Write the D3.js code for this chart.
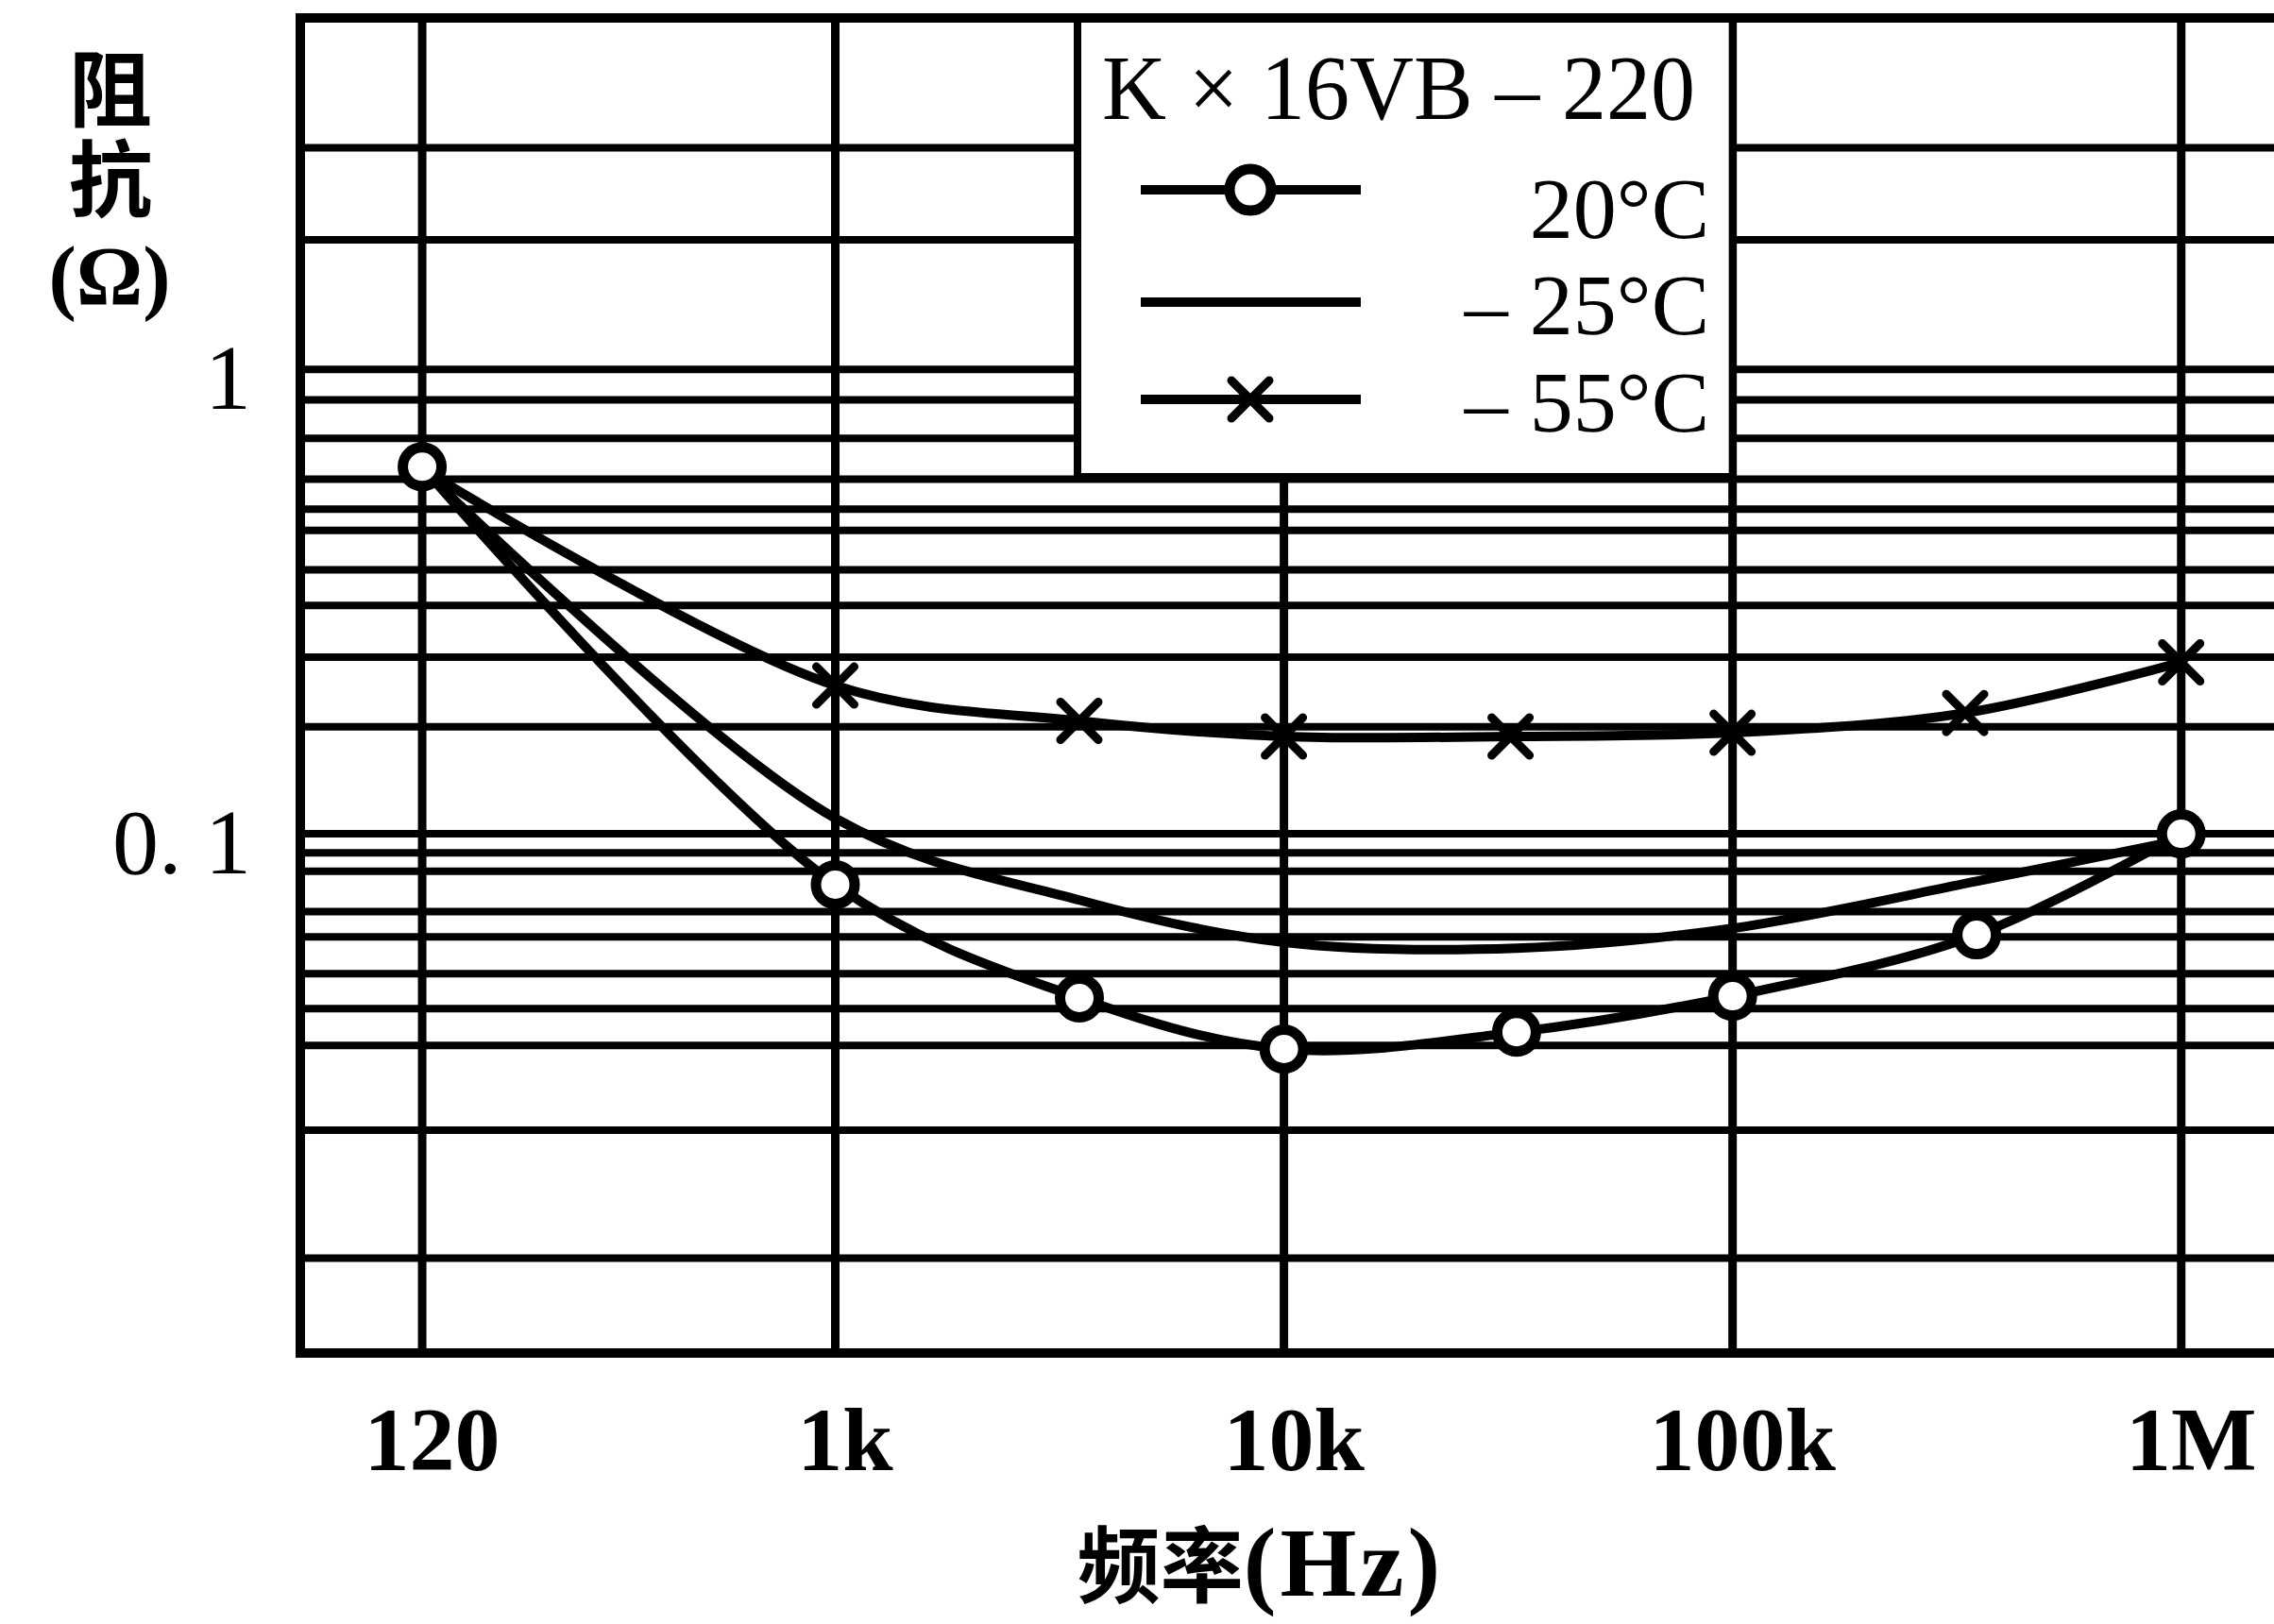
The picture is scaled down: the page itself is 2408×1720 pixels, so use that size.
<!DOCTYPE html>
<html><head><meta charset="utf-8">
<script src="https://cdn.jsdelivr.net/npm/d3@7"></script>
<style>
html,body{margin:0;padding:0;background:#fff;}
svg{display:block;}
</style></head>
<body>
<svg id="chart" width="2408" height="1720"></svg>
<script>
// ---------- data ----------
const freqTicks = [120, 1000, 10000, 100000, 1000000];
const freqTickLabels = ["120", "1k", "10k", "100k", "1M"];
const impTicks = [1, 0.1];
const impTickLabels = ["1", "0. 1"];
// horizontal grid lines as printed on the original chart paper
const gridImpedance = [3, 1.9, 1, 0.86, 0.71, 0.58, 0.5, 0.45, 0.37, 0.31, 0.24, 0.17,
  0.1, 0.091, 0.083, 0.068, 0.06, 0.05, 0.042, 0.035, 0.023, 0.0122];

const freq20 = [120, 1000, 3500, 10000, 33000, 100000, 350000, 1000000];
const z20    = [0.617, 0.0777, 0.0443, 0.0344, 0.0374, 0.0447, 0.0606, 0.1];
const freq25 = [120, 1000, 3500, 10000, 33000, 100000, 350000, 1000000];
const z25    = [0.61, 0.108, 0.072, 0.0584, 0.0567, 0.0626, 0.079, 0.097];
const freq55 = [120, 1000, 3500, 10000, 32000, 100000, 330000, 1000000];
const z55    = [0.61, 0.2085, 0.175, 0.162, 0.162, 0.165, 0.182, 0.234];

const legendTitle = "K × 16VB – 220";
const seriesNames = ["20°C", "– 25°C", "– 55°C"];
const yTitleCJK = "阻抗";
const yTitleUnit = "(Ω)";
const xTitleCJK = "频率";
const xTitleUnit = "(Hz)";

// ---------- layout ----------
const W = 2408, H = 1720;
const plot = {left: 318, top: 19, right: 2408, bottom: 1433};
const svg = d3.select("#chart");
svg.append("rect").attr("width", W).attr("height", H).attr("fill", "#fff");

const x = d3.scaleLog().domain([64.2, 1.61e6]).range([plot.left, plot.right]);
const y = d3.scaleLog().domain([0.00762, 5.71]).range([plot.bottom, plot.top]);

const serif = "'Liberation Serif','Times New Roman',serif";
const cjk = "'Noto Sans CJK SC','Noto Sans CJK TC',sans-serif";

// grid
const grid = svg.append("g").attr("stroke", "#000");
grid.selectAll("line.h").data(gridImpedance).join("line")
  .attr("class", "h")
  .attr("x1", plot.left).attr("x2", plot.right)
  .attr("y1", d => y(d)).attr("y2", d => y(d))
  .attr("stroke-width", 8);
grid.selectAll("line.v").data(freqTicks).join("line")
  .attr("class", "v")
  .attr("x1", d => x(d)).attr("x2", d => x(d))
  .attr("y1", plot.top).attr("y2", plot.bottom)
  .attr("stroke-width", 9);

// legend box (sits on the grid, white)
const lg = {x0: 1141, x1: x(100000), y0: plot.top, y1: 505};
svg.append("rect")
  .attr("x", lg.x0).attr("y", lg.y0)
  .attr("width", lg.x1 - lg.x0).attr("height", lg.y1 - lg.y0)
  .attr("fill", "#fff").attr("stroke", "#000").attr("stroke-width", 8);

// frame
const frame = svg.append("g").attr("stroke", "#000").attr("stroke-width", 10).attr("stroke-linecap", "square");
frame.append("line").attr("x1", plot.left).attr("x2", plot.right).attr("y1", plot.top).attr("y2", plot.top);
frame.append("line").attr("x1", plot.left).attr("x2", plot.right).attr("y1", plot.bottom).attr("y2", plot.bottom);
frame.append("line").attr("x1", plot.left).attr("x2", plot.left).attr("y1", plot.top).attr("y2", plot.bottom);

// curves
const line = d3.line()
  .x(d => x(d[0])).y(d => y(d[1]))
  .curve(d3.curveCatmullRom.alpha(0.5));
const s20 = freq20.map((f, i) => [f, z20[i]]);
const s25 = freq25.map((f, i) => [f, z25[i]]);
const s55 = freq55.map((f, i) => [f, z55[i]]);
const curves = svg.append("g").attr("fill", "none").attr("stroke", "#000")
  .attr("stroke-width", 10).attr("stroke-linejoin", "round").attr("stroke-linecap", "round");
[s25, s55, s20].forEach(s => curves.append("path").attr("d", line(s)));

// markers
const xr = 20;
function drawX(g, cx, cy) {
  g.append("path")
    .attr("d", `M${cx - xr},${cy - xr}L${cx + xr},${cy + xr}M${cx + xr},${cy - xr}L${cx - xr},${cy + xr}`)
    .attr("stroke", "#000").attr("stroke-width", 9).attr("stroke-linecap", "round").attr("fill", "none");
}
const mk = svg.append("g");
s55.slice(1).forEach(d => drawX(mk, x(d[0]), y(d[1])));
mk.selectAll("circle").data(s20).join("circle")
  .attr("cx", d => x(d[0])).attr("cy", d => y(d[1])).attr("r", 20.5)
  .attr("fill", "#fff").attr("stroke", "#000").attr("stroke-width", 11);

// axes
const xAxis = svg.append("g").attr("transform", `translate(0,${plot.bottom})`)
  .call(d3.axisBottom(x).tickValues(freqTicks).tickFormat((d, i) => freqTickLabels[i]).tickSize(0).tickPadding(56));
xAxis.select(".domain").remove();
xAxis.selectAll("text").attr("font-family", serif).attr("font-size", 96).attr("font-weight", "bold")
  .attr("fill", "#000").attr("dx", 10);

const yAxis = svg.append("g").attr("transform", `translate(${plot.left},0)`)
  .call(d3.axisLeft(y).tickValues(impTicks).tickFormat((d, i) => impTickLabels[i]).tickSize(0).tickPadding(52));
yAxis.select(".domain").remove();
yAxis.selectAll("text").attr("font-family", serif).attr("font-size", 98)
  .attr("fill", "#000").attr("dy", "0.42em");

// y title: vertical CJK text + unit below
svg.append("text")
  .attr("x", 117).attr("y", 50)
  .attr("writing-mode", "vertical-rl")
  .attr("font-family", cjk).attr("font-weight", "bold").attr("font-size", 88)
  .attr("letter-spacing", 7)
  .attr("fill", "#000").text(yTitleCJK);
svg.append("text").attr("x", 116).attr("y", 322).attr("text-anchor", "middle")
  .attr("font-family", serif).attr("font-weight", "bold").attr("font-size", 88)
  .attr("fill", "#000").text(yTitleUnit);

// x title
const xt = svg.append("text").attr("x", 1335).attr("y", 1690).attr("text-anchor", "middle").attr("fill", "#000")
  .attr("font-weight", "bold");
xt.append("tspan").attr("font-family", cjk).attr("font-size", 88).text(xTitleCJK);
xt.append("tspan").attr("font-family", serif).attr("font-size", 104).attr("letter-spacing", 4).text(xTitleUnit);

// legend contents
svg.append("text").attr("x", 1167).attr("y", 126).attr("font-family", serif).attr("font-size", 98)
  .attr("textLength", 628).attr("lengthAdjust", "spacingAndGlyphs")
  .attr("fill", "#000").text(legendTitle);
const rows = [
  {ly: 201, ty: 252, marker: "circle"},
  {ly: 320, ty: 354, marker: "none"},
  {ly: 423, ty: 457, marker: "x"}
];
const lgLine = {x0: 1208, x1: 1441, mx: 1324};
rows.forEach((r, i) => {
  svg.append("line").attr("x1", lgLine.x0).attr("x2", lgLine.x1).attr("y1", r.ly).attr("y2", r.ly)
    .attr("stroke", "#000").attr("stroke-width", 10);
  if (r.marker === "circle") {
    svg.append("circle").attr("cx", lgLine.mx).attr("cy", r.ly).attr("r", 22)
      .attr("fill", "#fff").attr("stroke", "#000").attr("stroke-width", 11);
  } else if (r.marker === "x") {
    drawX(svg, lgLine.mx, r.ly);
  }
  svg.append("text").attr("x", 1810).attr("y", r.ty).attr("text-anchor", "end")
    .attr("font-family", serif).attr("font-size", 92).attr("fill", "#000").text(seriesNames[i]);
});
</script>
</body></html>
